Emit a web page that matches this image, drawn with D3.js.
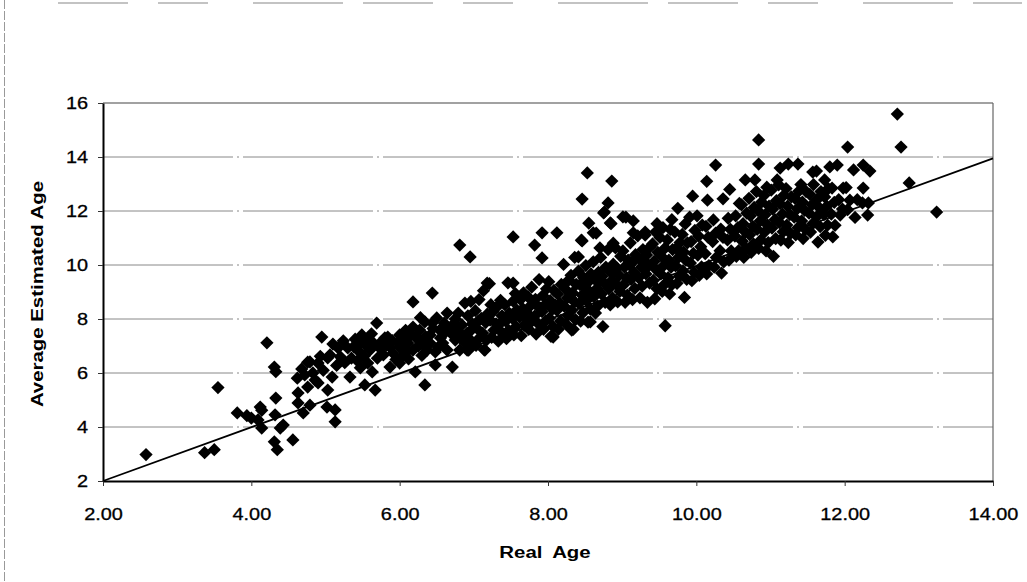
<!DOCTYPE html>
<html>
<head>
<meta charset="utf-8">
<script src="https://cdn.jsdelivr.net/npm/d3@7"></script>
<style>
  body { margin: 0; background: #fff; }
  svg { display: block; font-family: "Liberation Sans", Arial, sans-serif; }
</style>
</head>
<body>
<svg id="chart" width="1027" height="582"></svg>
<script>
// tick values
const xTicks = [2, 4, 6, 8, 10, 12, 14];
const yTicks = [2, 4, 6, 8, 10, 12, 14, 16];

// trendline end points (real age, estimated age)
const trendEnds = [[2, 2.0], [14, 13.95]];

// [real age, average estimated age]
const pointsYoung = [
  [2.58,2.98],[3.37,3.05],[3.50,3.16],[3.55,5.46],
  [3.81,4.52],[3.94,4.42],[4.00,4.33],[4.09,4.26],[4.12,4.74],[4.14,4.62],[4.14,3.96],[4.21,7.12],
  [4.31,6.22],[4.33,6.05],[4.33,5.07],[4.32,4.45],[4.39,3.96],[4.31,3.45],[4.35,3.16],[4.43,4.07],[4.56,3.52],
  [4.62,5.81],[4.63,5.26],[4.63,4.89],[4.70,4.52],[4.72,5.93],[4.76,6.40],[4.76,5.48],[4.79,6.41],[4.79,4.81],
  [4.83,6.00],[4.90,6.37],[4.90,5.63],[4.95,7.33],[4.97,6.10],[4.86,5.74],[4.68,6.15],[4.93,6.62]
];

const pointsMid = [
  [5.02,4.74],[5.03,6.56],[5.03,5.37],[5.06,6.67],[5.09,5.85],[5.10,7.07],[5.13,4.63],[5.13,4.19],[5.17,6.93],
  [5.20,6.60],[5.24,7.19],[5.30,6.93],[5.33,5.85],[5.35,6.55],[5.40,7.25],[5.45,6.80],[5.47,7.11],[5.47,6.19],
  [5.49,7.41],[5.53,5.56],[5.55,7.00],[5.57,7.22],[5.57,6.37],[5.60,6.85],[5.63,6.04],[5.65,7.10],[5.67,5.37],
  [5.69,7.85],[5.70,6.55],[5.73,6.93],[5.75,7.15],[5.78,6.67],[5.80,7.30],[5.84,7.33],[5.87,6.96],[5.87,6.22],
  [5.90,7.20],[5.91,6.74],[5.95,6.50],[6.00,6.96],[6.00,6.37],[6.00,7.41],[6.05,6.67],[6.05,7.25],[6.10,6.80],
  [6.11,7.11],[6.15,7.40],[6.18,8.63],[6.18,7.70],[6.18,6.85],[6.21,6.04],[6.25,7.22],[6.25,7.00],[6.27,7.59],
  [6.30,6.65],[6.34,7.89],[6.34,5.56],[6.35,7.35],[6.37,6.85],[6.41,7.41],[6.41,7.11],[6.44,8.96],[6.45,7.65],
  [6.48,6.78],[6.48,6.30],[6.50,8.04],[6.54,7.59],[6.55,7.30],[6.58,7.11],[6.60,7.85],[6.64,8.22],[6.64,6.85],
  [6.68,7.67],[6.70,7.45],[6.71,6.22],[6.75,7.22],[6.75,8.00],[6.79,8.22],[6.81,10.74],[6.81,6.85],[6.84,7.78],
  [6.85,7.30],[6.88,8.59],[6.88,7.11],[6.91,7.48],[6.95,10.30],[6.91,6.85],
  [5.26,6.38],[5.38,6.98],[5.52,6.62],[5.62,7.45],[5.82,7.02],[5.98,7.12],[6.08,7.58],[6.22,7.35],[6.32,7.06],
  [6.44,7.85],[6.52,6.95],[6.62,7.52],[6.73,7.82],[6.79,7.55],[5.15,6.28],[5.43,6.45],[6.12,6.52],[6.28,8.05]
];

const pointsCloud = [
  [6.93,6.85],[6.97,7.18],[6.94,7.52],[6.98,7.82],[6.92,8.12],[6.96,8.65],
  [7.03,7.02],[7.08,7.31],[7.04,7.66],[7.06,7.93],[7.02,8.31],[7.07,8.72],
  [7.14,6.86],[7.17,7.22],[7.12,7.48],[7.16,7.87],[7.18,8.18],[7.13,9.05],
  [7.24,7.32],[7.27,7.58],[7.22,7.96],[7.26,8.27],[7.23,8.53],[7.21,9.31],
  [7.33,7.18],[7.37,7.52],[7.34,7.79],[7.38,8.12],[7.32,8.47],[7.36,8.69],
  [7.44,7.27],[7.47,7.58],[7.43,7.92],[7.48,8.21],[7.42,8.52],[7.46,9.34],
  [7.54,7.41],[7.57,7.72],[7.52,8.02],[7.58,8.33],[7.53,8.66],[7.56,8.94],
  [7.64,7.38],[7.68,7.76],[7.62,8.07],[7.66,8.38],[7.63,8.72],[7.67,8.97],
  [7.74,7.62],[7.77,7.88],[7.72,8.22],[7.76,8.48],[7.73,8.82],[7.78,9.18],
  [7.84,7.44],[7.87,7.82],[7.82,8.11],[7.86,8.47],[7.83,8.73],[7.88,9.46],
  [7.94,7.62],[7.97,7.93],[7.92,8.27],[7.96,8.53],[7.93,8.87],[7.98,9.12],
  [8.04,7.36],[8.07,7.72],[8.02,8.03],[8.06,8.36],[8.03,8.68],[8.08,9.06],[8.01,9.38],
  [8.14,7.62],[8.17,7.93],[8.12,8.32],[8.16,8.58],[8.13,8.92],[8.18,9.28],
  [8.24,7.82],[8.27,8.13],[8.22,8.47],[8.26,8.78],[8.23,9.12],[8.28,9.44],[8.21,10.02],
  [8.34,7.62],[8.37,7.98],[8.32,8.32],[8.36,8.63],[8.33,8.97],[8.38,9.28],[8.31,9.62],[8.36,10.28],
  [8.44,7.92],[8.47,8.23],[8.42,8.57],[8.46,8.88],[8.43,9.27],[8.48,9.53],[8.41,9.77],[8.45,10.92],
  [8.54,7.88],[8.57,8.37],[8.52,8.68],[8.56,9.02],[8.53,9.33],[8.58,9.67],[8.51,9.98],[8.55,11.55],
  [8.64,8.22],[8.67,8.48],[8.62,8.82],[8.66,9.13],[8.63,9.47],[8.68,9.73],[8.61,10.12],[8.65,11.18],
  [8.74,7.72],[8.77,8.62],[8.72,8.93],[8.76,9.32],[8.73,9.58],[8.78,9.92],[8.71,10.28],[8.75,11.93],
  [8.84,8.52],[8.87,8.78],[8.82,9.12],[8.86,9.43],[8.83,9.77],[8.88,10.03],[8.81,10.57],[8.85,11.53],
  [8.94,8.63],[8.97,9.02],[8.92,9.28],[8.96,9.62],[8.93,9.88],[8.98,10.32],[8.91,10.63],
  [9.04,8.62],[9.07,8.88],[9.02,9.27],[9.06,9.53],[9.03,9.92],[9.08,10.18],[9.01,10.52],[9.05,11.77],
  [9.14,8.72],[9.17,9.13],[9.12,9.47],[9.16,9.73],[9.13,10.07],[9.18,10.38],[9.11,10.82],[9.15,11.63],
  [9.24,8.78],[9.27,9.22],[9.22,9.53],[9.26,9.92],[9.23,10.23],[9.28,10.57],[9.21,11.08],
  [9.34,8.62],[9.37,9.33],[9.32,9.67],[9.36,9.98],[9.33,10.37],[9.38,10.68],[9.31,11.22],
  [7.53,11.04],[7.92,11.19],[8.12,11.19],[7.82,10.74],[7.92,10.26],[8.41,10.3],[8.53,13.41],[8.86,13.11],
  [8.46,12.44],[8.81,12.3],[8.76,11.96],[9.01,11.78],[8.84,11.56],[8.61,11.19],[8.46,10.89],[8.70,10.63],
  [8.88,10.81],[9.15,11.19],[9.31,11.11],[8.57,7.89],[8.32,7.59],[8.07,7.33],[7.15,6.85],[7.18,9.33],[7.53,9.33],
  [7.10,8.02],[7.30,7.82],[7.50,8.15],[7.70,8.05],[7.90,8.40],[8.10,8.50],[8.30,8.80],[8.50,9.15],[8.70,9.40],
  [8.90,9.75],[9.10,10.00],[9.30,10.15]
];

const pointsOlder = [
  [9.44,8.75],[9.47,9.12],[9.42,9.43],[9.46,9.82],[9.43,10.13],[9.48,10.47],[9.41,10.78],[9.45,11.22],[9.47,11.53],
  [9.54,9.02],[9.57,9.28],[9.52,9.67],[9.56,9.98],[9.53,10.32],[9.58,10.63],[9.51,11.02],[9.55,11.38],[9.58,7.75],
  [9.64,8.93],[9.67,9.27],[9.62,9.53],[9.66,9.92],[9.63,10.18],[9.68,10.57],[9.61,10.93],[9.65,11.32],[9.67,11.68],
  [9.74,9.32],[9.77,9.58],[9.72,9.97],[9.76,10.28],[9.73,10.62],[9.78,10.83],[9.71,11.22],[9.75,12.1],
  [9.84,8.8],[9.87,9.47],[9.82,9.78],[9.86,10.17],[9.83,10.48],[9.88,10.82],[9.81,11.13],[9.85,11.52],
  [9.94,9.42],[9.97,9.73],[9.92,10.07],[9.96,10.43],[9.93,10.87],[9.98,11.28],[9.91,11.77],[9.95,12.55],
  [10.04,9.62],[10.07,9.93],[10.02,10.37],[10.06,10.68],[10.03,11.07],[10.08,11.48],[10.01,11.82],
  [10.14,9.67],[10.17,9.98],[10.12,10.42],[10.16,11.02],[10.13,11.43],[10.15,12.4],[10.14,13.1],
  [10.24,9.92],[10.27,10.28],[10.22,10.87],[10.26,11.18],[10.23,11.67],[10.26,13.7],
  [10.34,9.7],[10.37,10.12],[10.32,10.53],[10.36,11.02],[10.33,11.33],[10.36,12.45],
  [10.44,10.18],[10.47,10.52],[10.42,10.93],[10.46,11.32],[10.43,11.73],[10.45,12.8],
  [10.54,10.32],[10.57,10.53],[10.52,11.07],[10.56,11.38],[10.53,11.82],[10.58,12.28],
  [10.64,10.28],[10.67,10.62],[10.62,10.88],[10.66,11.22],[10.63,11.53],[10.68,11.92],[10.61,12.23],[10.66,13.15],
  [10.74,10.47],[10.77,10.78],[10.72,11.12],[10.76,11.43],[10.73,11.82],[10.78,12.13],[10.71,12.47],[10.79,13.15],
  [10.84,10.62],[10.87,10.93],[10.82,11.32],[10.86,11.63],[10.83,12.02],[10.88,12.33],[10.81,12.72],[10.84,13.74],[10.84,14.63],
  [10.94,10.52],[10.97,10.83],[10.92,11.22],[10.96,11.48],[10.93,11.87],[10.98,12.18],[10.91,12.57],[10.95,12.88],
  [11.04,10.32],[11.07,10.98],[11.02,11.37],[11.06,11.68],[11.03,12.07],[11.08,12.38],[11.01,12.77],[11.09,13.15],
  [11.14,10.92],[11.17,11.23],[11.12,11.57],[11.16,11.88],[11.13,12.27],[11.18,12.58],[11.11,12.97],[11.13,13.59],
  [11.24,10.83],[11.27,11.17],[11.22,11.48],[11.26,11.87],[11.23,12.18],[11.28,12.52],[11.21,12.83],[11.24,13.74],
  [11.34,11.12],[11.37,11.38],[11.32,11.77],[11.36,12.08],[11.33,12.47],[11.38,12.73],[11.37,13.74],
  [11.44,10.98],[11.47,11.32],[11.42,11.63],[11.46,12.02],[11.43,12.33],[11.48,12.72],[11.41,12.98],
  [11.54,11.22],[11.57,11.53],[11.52,11.92],[11.56,12.23],[11.53,12.62],[11.58,12.98],[11.57,13.44],
  [11.64,10.85],[11.67,11.42],[11.62,11.78],[11.66,12.12],[11.63,12.43],[11.68,12.72],[11.62,13.48],
  [11.74,11.1],[11.77,11.48],[11.72,11.87],[11.76,12.18],[11.73,12.52],[11.78,12.83],[11.73,13.15],[11.8,13.63],
  [11.84,11.04],[11.87,11.47],[11.82,11.88],[11.86,12.32],[11.83,12.85],[11.9,13.7],
  [11.94,11.85],[11.97,12.07],[11.92,12.42],[11.98,12.85],
  [12.04,12.05],[12.07,12.4],[12.02,12.87],[12.04,14.37],
  [12.14,11.76],[12.17,12.42],[12.12,13.52],
  [12.24,12.3],[12.25,12.85],[12.25,13.7],
  [12.31,11.85],[12.32,12.3],[12.34,13.48],
  [12.71,15.59],[12.76,14.37],[12.87,13.04],[13.24,11.96]
];

const points = pointsYoung.concat(pointsMid, pointsCloud, pointsOlder);

const svg = d3.select("#chart");
const plot = { left: 103, right: 993, top: 103, bottom: 481 };

const x = d3.scaleLinear().domain([2, 14]).range([plot.left, plot.right]);
const y = d3.scaleLinear().domain([2, 16]).range([plot.bottom, plot.top]);

// scan frame bits
svg.append("line")
  .attr("x1", 4.5).attr("x2", 4.5).attr("y1", 0).attr("y2", 582)
  .attr("stroke", "#999").attr("stroke-dasharray", "9,2");
svg.append("line")
  .attr("x1", 58).attr("x2", 1022).attr("y1", 3).attr("y2", 3)
  .attr("stroke", "#888").attr("stroke-width", 1.2).attr("stroke-dasharray", "70,30,50,45,90,20");

// gridlines
svg.append("g")
  .selectAll("line")
  .data(yTicks.filter(d => d > 2 && d < 16))
  .enter()
  .append("line")
  .attr("x1", plot.left).attr("x2", plot.right)
  .attr("y1", d => y(d)).attr("y2", d => y(d))
  .attr("stroke", "#888")
  .attr("stroke-dasharray", "130,4,2,4");

// top and right frame of plot area
svg.append("line")
  .attr("x1", plot.left).attr("x2", plot.right).attr("y1", plot.top).attr("y2", plot.top)
  .attr("stroke", "#444").attr("stroke-width", 1.2);
svg.append("line")
  .attr("x1", plot.right).attr("x2", plot.right).attr("y1", plot.top).attr("y2", plot.bottom)
  .attr("stroke", "#666").attr("stroke-width", 1.2);

// markers
let diamond = d3.symbol().type(d3.symbolSquare).size(88);
svg.append("g")
  .selectAll("path")
  .data(points)
  .enter()
  .append("path")
  .attr("d", diamond)
  .attr("transform", d => "translate(" + x(d[0]) + "," + y(d[1]) + ") rotate(45)")
  .attr("fill", "#000");

// trendline
svg.append("path")
  .datum(trendEnds)
  .attr("d", d3.line().x(d => x(d[0])).y(d => y(d[1])))
  .attr("fill", "none")
  .attr("stroke", "#000")
  .attr("stroke-width", 1.8);

// axes
let xAxis = svg.append("g")
  .attr("transform", "translate(0," + plot.bottom + ")")
  .call(d3.axisBottom(x).tickValues(xTicks).tickFormat(d3.format(".2f")).tickSize(5).tickSizeOuter(0));
let yAxis = svg.append("g")
  .attr("transform", "translate(" + plot.left + ",0)")
  .call(d3.axisLeft(y).tickValues(yTicks).tickFormat(d3.format("d")).tickSize(5).tickSizeOuter(0));

[xAxis, yAxis].forEach(ax => {
  ax.select(".domain").attr("stroke", "#000").attr("stroke-width", 2);
  ax.selectAll(".tick line").attr("stroke", "#333");
  ax.selectAll("text")
    .attr("fill", "#000")
    .attr("stroke", "#000")
    .attr("stroke-width", 0.3)
    .style("font-family", "'Liberation Sans', Arial, sans-serif")
    .style("font-size", "17px");
});
xAxis.selectAll("text").attr("y", 39).attr("dy", 0).attr("transform", "scale(1.17,1)");
yAxis.selectAll("text").attr("x", -12.8).attr("transform", "scale(1.17,1)");

// axis titles
svg.append("text")
  .attr("transform", "translate(545,558) scale(1.2,1)")
  .attr("text-anchor", "middle")
  .style("font-weight", "bold")
  .style("font-size", "17px")
  .style("word-spacing", "4px")
  .text("Real Age");

svg.append("text")
  .attr("transform", "translate(43,294) rotate(-90) scale(1.2,1)")
  .attr("text-anchor", "middle")
  .style("font-weight", "bold")
  .style("font-size", "17px")
  .text("Average Estimated Age");
</script>
</body>
</html>
